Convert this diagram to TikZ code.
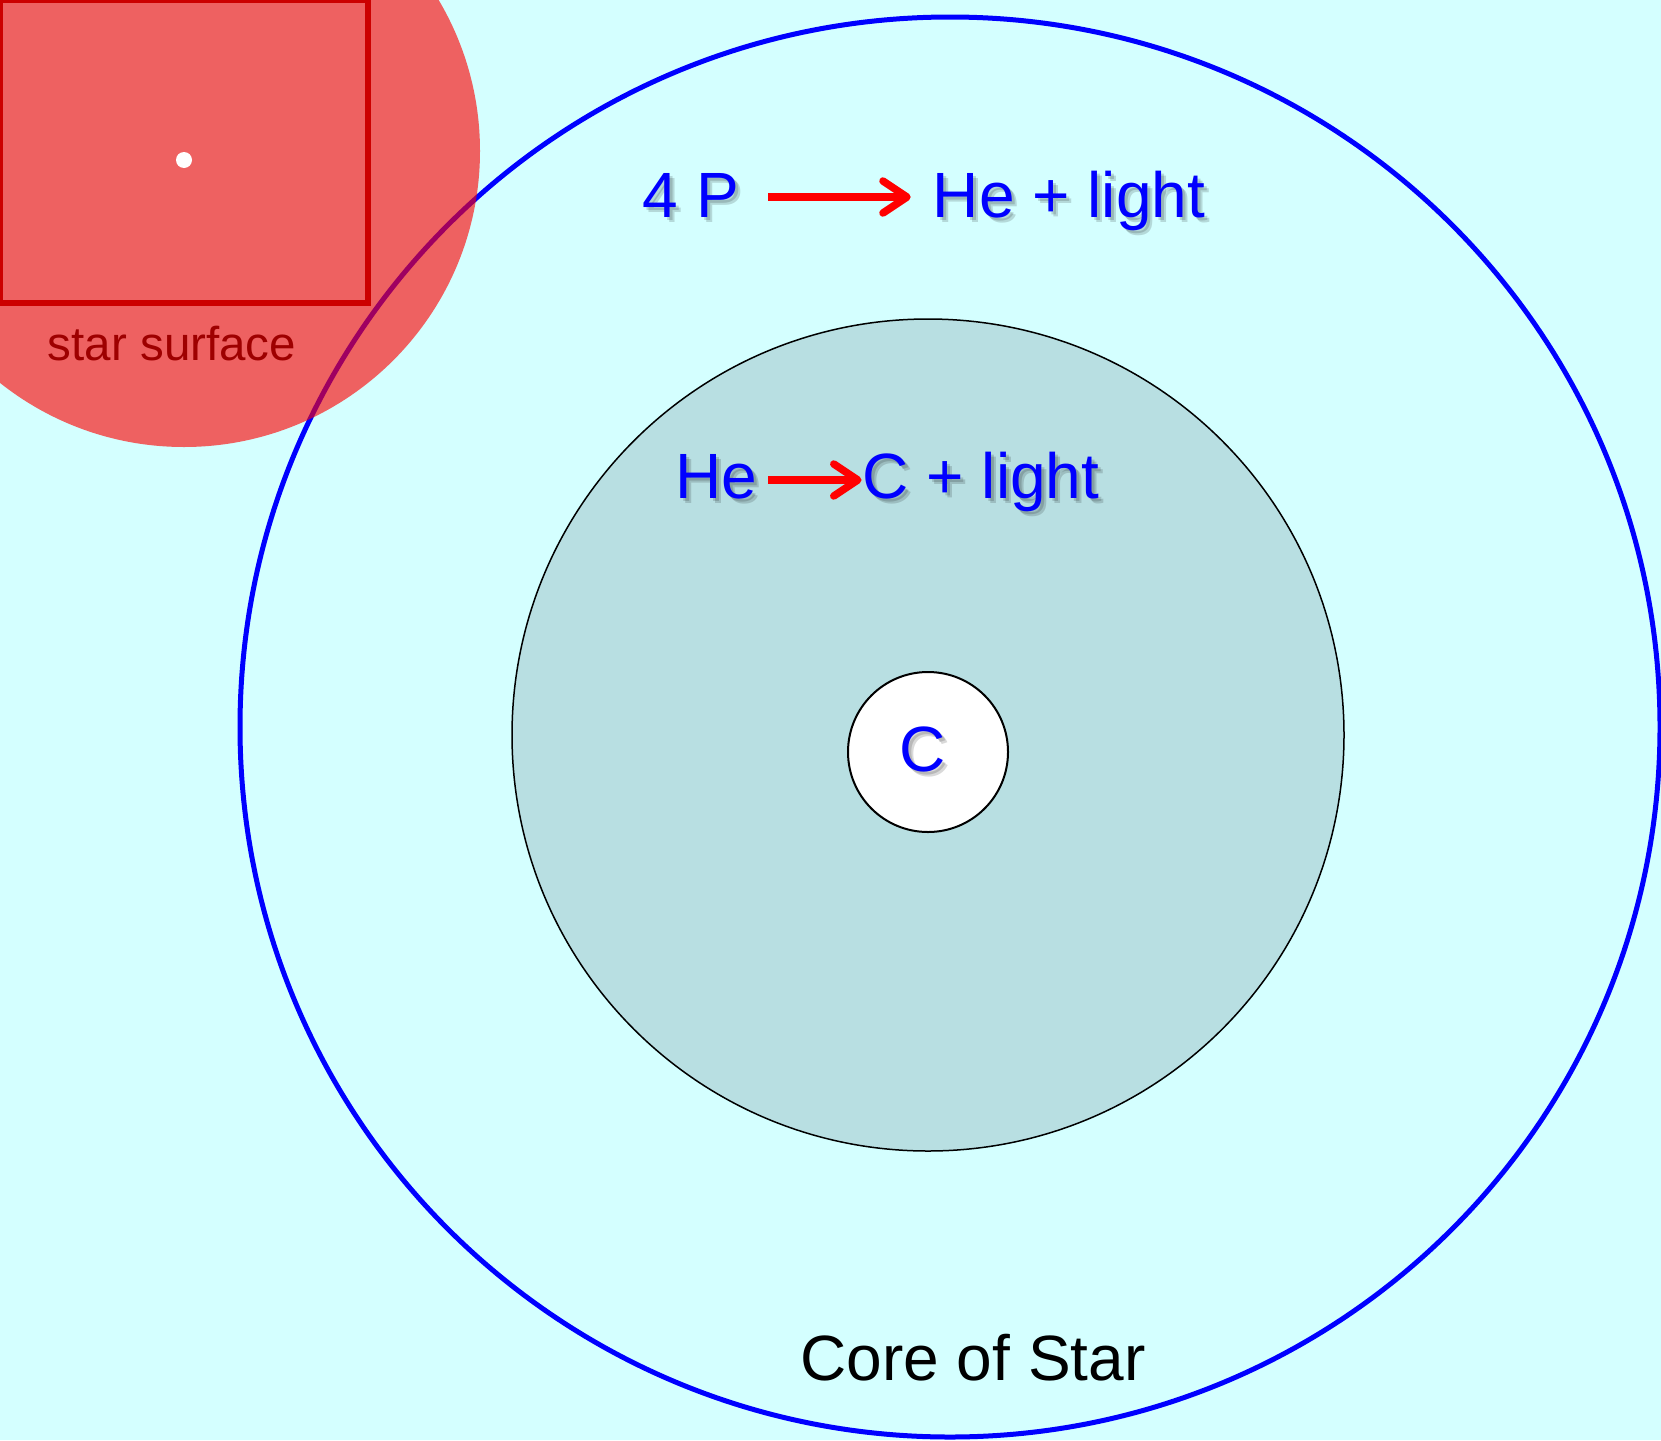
\documentclass[tikz,border=0pt]{standalone}
\usepackage{fontspec}
\setmainfont{Liberation Sans}
\usetikzlibrary{arrows.meta}
\definecolor{skybg}{HTML}{D4FFFF}
\definecolor{shellfill}{HTML}{B8DFE2}
\definecolor{boxred}{HTML}{CC0000}
\definecolor{surfred}{HTML}{9E0000}

\begin{document}
\begin{tikzpicture}[x=1pt, y=-1pt,
  lbl/.style={inner sep=0, anchor=base, font=\fontsize{64}{72}\selectfont, text=blue},
  ghost/.style={lbl, text=black, text opacity=0.15},
  fuse/.style={red, line width=7.5pt, -{Straight Barb[round, length=24pt, width=32pt]}}]
  \useasboundingbox (0,0) rectangle (1661,1440);
  \fill[skybg] (0,0) rectangle (1661,1440);
  % core and burning shells
  \draw[blue, line width=5pt] (950,727) circle[radius=710];
  \filldraw[fill=shellfill, draw=black, line width=1.5pt] (928,735) circle[radius=416];
  \filldraw[fill=white, draw=black, line width=2pt] (928,752) circle[radius=80];
  \foreach \nm/\x/\y/\t in {p/691/217/4 P, he/1069/217/He + light, hein/716/498/He, cl/981/498/C + light, c/923/771/C} {
    \foreach \o in {3,5}
      \node[ghost] at (\x+\o,\y+\o) {\t};
    \node[lbl] (\nm) at (\x,\y) {\t};
  }
  \draw[fuse, shorten <=29pt, shorten >=22pt] ([yshift=20pt]p.base east) -- ([yshift=20pt]he.base west);
  \draw[fuse, shorten <=11pt, shorten >=1pt] ([yshift=18pt]hein.base east) -- ([yshift=18pt]cl.base west);
  \node[lbl, text=black] (core) at (973,1380) {Core of Star};
  % the star seen from outside
  \fill[red, fill opacity=0.62] (184,151) circle[radius=296];
  \draw[boxred, line width=6pt] (0,0) rectangle (368,303);
  \fill[white] (184,160) circle[radius=8];
  \node[lbl, text=surfred, font=\fontsize{47.5}{52}\selectfont] (surf) at (172,360) {star surface};
\end{tikzpicture}
\end{document}
